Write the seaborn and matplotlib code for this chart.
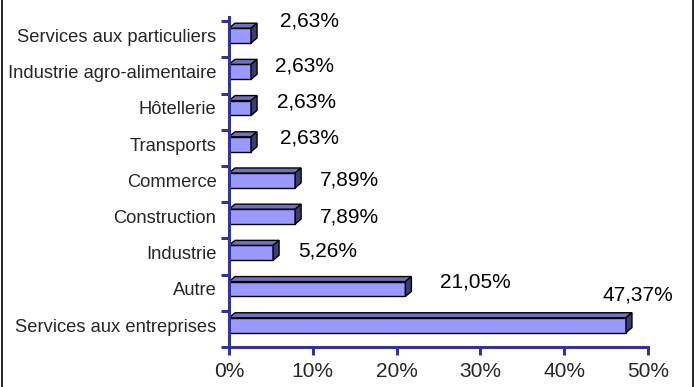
import matplotlib
matplotlib.use("Agg")
import matplotlib.pyplot as plt
from matplotlib.patches import Polygon
from matplotlib.lines import Line2D
from matplotlib.ticker import FixedLocator
import seaborn as sns
import pandas as pd

# Sectors, listed top to bottom
categories = [
    "Services aux particuliers",
    "Industrie agro-alimentaire",
    "Hôtellerie",
    "Transports",
    "Commerce",
    "Construction",
    "Industrie",
    "Autre",
    "Services aux entreprises",
]
shares = [2.63, 2.63, 2.63, 2.63, 7.89, 7.89, 5.26, 21.05, 47.37]
value_labels = ["2,63%", "2,63%", "2,63%", "2,63%", "7,89%", "7,89%",
                "5,26%", "21,05%", "47,37%"]
x_ticks = [0, 10, 20, 30, 40, 50]
x_tick_labels = ["0%", "10%", "20%", "30%", "40%", "50%"]

# Pixel offsets of each value label from the end of its bar
label_dx = [29, 24, 26, 29, 25, 25, 25, 35, -23]
label_dy = [15, 6, 6, 6, 0, 0, 2, 7, 30]

FRONT = "#9999FF"
TOP = "#7070BB"
SIDE = "#3C3C74"
AXIS = "#333399"
DEPTH_X, DEPTH_Y = 6, 5  # pixels

sns.set_style("white")
plt.rcParams["font.family"] = ["Liberation Sans", "DejaVu Sans"]

W, H = 694, 387
fig = plt.figure(figsize=(W / 100, H / 100), dpi=100)
left_px, right_px, top_px, bottom_px = 229, 648, 17.5, 346.9
ax = fig.add_axes([left_px / W, (H - bottom_px) / H,
                   (right_px - left_px) / W, (bottom_px - top_px) / H])

df = pd.DataFrame({"Secteur": categories, "Part": shares})
sns.barplot(data=df, x="Part", y="Secteur", orient="h", order=categories,
            color=FRONT, saturation=1, edgecolor="black", linewidth=1,
            width=0.41, ax=ax, zorder=2)

ax.set_xlim(0, 50)
ax.set_ylim(8.6, -0.5)

# Depth of the 3D bars, converted from pixels to data units
px_x = 50 / (right_px - left_px)
px_y = 9.1 / (bottom_px - top_px)
ddx, ddy = DEPTH_X * px_x, -DEPTH_Y * px_y

for patch in list(ax.patches):
    x0, y0 = patch.get_x(), patch.get_y()
    w, h = patch.get_width(), patch.get_height()
    x1 = x0 + w
    ytop = min(y0, y0 + h)
    ybot = max(y0, y0 + h)
    top = Polygon([(x0, ytop), (x1, ytop), (x1 + ddx, ytop + ddy),
                   (x0 + ddx, ytop + ddy)], closed=True, facecolor=TOP,
                  edgecolor="black", linewidth=1, zorder=2, clip_on=False)
    side = Polygon([(x1, ybot), (x1, ytop), (x1 + ddx, ytop + ddy),
                    (x1 + ddx, ybot + ddy)], closed=True, facecolor=SIDE,
                   edgecolor="black", linewidth=1, zorder=2, clip_on=False)
    ax.add_patch(top)
    ax.add_patch(side)

# Value labels
for i, (v, lab) in enumerate(zip(shares, value_labels)):
    ax.annotate(lab, xy=(v, i), xytext=(label_dx[i], label_dy[i]),
                textcoords="offset pixels", ha="left", va="center",
                fontsize=15, color="black", annotation_clip=False)

# Axes styling
for side_name in ["top", "right"]:
    ax.spines[side_name].set_visible(False)
for side_name in ["left", "bottom"]:
    ax.spines[side_name].set_color(AXIS)
    ax.spines[side_name].set_linewidth(2.2)
    ax.spines[side_name].set_zorder(3)

ax.set_xticks(x_ticks)
ax.set_xticklabels(x_tick_labels, fontsize=15)
ax.tick_params(axis="x", direction="out", length=6, width=2.2,
               color=AXIS, pad=5, bottom=True)

ax.set_yticks(range(len(categories)))
ax.set_yticklabels(categories, fontsize=13.2)
ax.tick_params(axis="y", which="major", length=0, pad=9, left=True)
ax.yaxis.set_minor_locator(FixedLocator([k + 0.6 for k in range(-1, 9)]))
ax.tick_params(axis="y", which="minor", direction="out", length=6,
               width=2.2, color=AXIS, left=True)

ax.set_xlabel("")
ax.set_ylabel("")
ax.grid(False)

# Frame lines on the sides of the figure
fig.add_artist(Line2D([1.5 / W, 1.5 / W], [0, 1], transform=fig.transFigure,
                      color="black", linewidth=1.2))
fig.add_artist(Line2D([1 - 1.5 / W, 1 - 1.5 / W], [0, 1],
                      transform=fig.transFigure, color="black", linewidth=1.2))

fig.savefig("out.png", dpi=100)
